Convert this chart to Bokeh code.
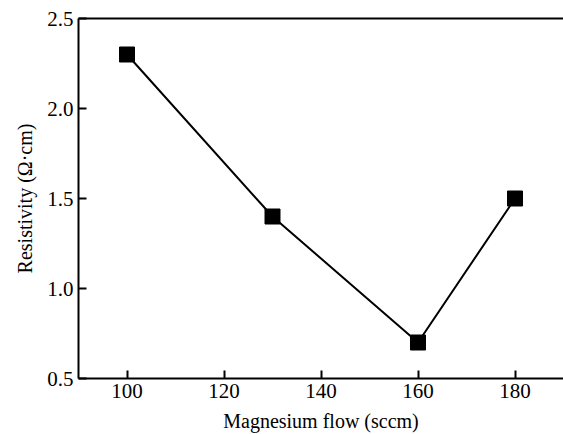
from bokeh.plotting import figure
from bokeh.models import LinearAxis, Range1d, FixedTicker, CustomJSTickFormatter
from bokeh.embed import file_html
from bokeh.resources import INLINE

flow = [100, 130, 160, 180]
resistivity = [2.3, 1.4, 0.7, 1.5]
x_ticks = [100, 120, 140, 160, 180]
y_ticks = [0.5, 1.0, 1.5, 2.0, 2.5]

FONT = "Liberation Serif"

p = figure(width=563, height=434, output_backend="svg", toolbar_location=None,
           x_range=Range1d(90, 190), y_range=Range1d(0.5, 2.5),
           min_border_left=78, min_border_right=0, min_border_top=18, min_border_bottom=56,
           x_axis_label="Magnesium flow (sccm)", y_axis_label="Resistivity (Ω·cm)")
p.outline_line_color = None
p.grid.visible = False
p.background_fill_color = "white"
p.border_fill_color = "white"

p.line(flow, resistivity, line_color="black", line_width=2)
p.scatter(flow, resistivity, marker="square", size=15, fill_color="black", line_color="black")

p.xaxis.ticker = FixedTicker(ticks=x_ticks)
p.yaxis.ticker = FixedTicker(ticks=y_ticks)
p.yaxis.formatter = CustomJSTickFormatter(code="return tick.toFixed(1);")

for ax in p.xaxis + p.yaxis:
    ax.axis_line_width = 2
    ax.major_tick_line_width = 2
    ax.major_tick_in = 8
    ax.major_tick_out = 0
    ax.minor_tick_line_color = None
    ax.major_label_text_font = FONT
    ax.major_label_text_font_size = "21px"
    ax.major_label_text_color = "black"
    ax.axis_label_text_font = FONT
    ax.axis_label_text_font_size = "20px"
    ax.axis_label_text_font_style = "normal"
    ax.axis_label_text_color = "black"
    ax.major_label_standoff = 5

p.xaxis.axis_label_standoff = 9
p.yaxis.axis_label_standoff = 8

top = LinearAxis(ticker=FixedTicker(ticks=[]), axis_line_width=2,
                 major_tick_in=0, major_tick_out=0, minor_tick_line_color=None,
                 major_label_text_font_size="0px")
p.add_layout(top, "above")

open("out.html", "w").write(file_html(p, INLINE))
